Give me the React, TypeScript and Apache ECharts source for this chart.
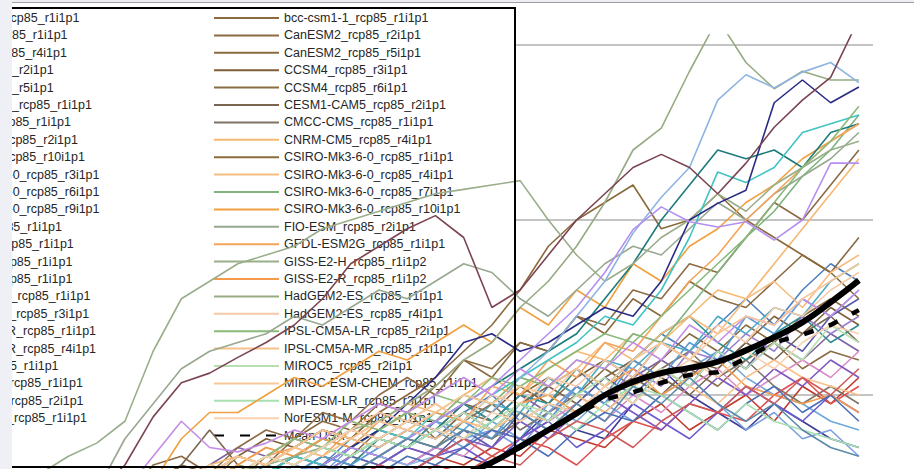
import { useEffect, useRef } from "react";
import * as echarts from "echarts";

const years = [2010, 2013, 2016, 2019, 2022, 2025, 2028, 2031, 2034, 2037, 2040, 2043, 2046, 2049, 2052, 2055, 2058, 2061, 2064, 2067, 2070, 2073, 2076, 2079, 2082, 2085, 2088, 2091, 2094, 2097, 2100];

const leftNames = [
  "ACCESS1-0_rcp85_r1i1p1", "BNU-ESM_rcp85_r1i1p1", "CanESM2_rcp85_r4i1p1", "CCSM4_rcp85_r2i1p1",
  "CCSM4_rcp85_r5i1p1", "CESM1-CAM5_rcp85_r1i1p1", "CMCC-CM_rcp85_r1i1p1", "CNRM-CM5_rcp85_r2i1p1",
  "CNRM-CM5_rcp85_r10i1p1", "CSIRO-Mk3-6-0_rcp85_r3i1p1", "CSIRO-Mk3-6-0_rcp85_r6i1p1", "CSIRO-Mk3-6-0_rcp85_r9i1p1",
  "FIO-ESM_rcp85_r1i1p1", "GFDL-CM3_rcp85_r1i1p1", "GISS-E2-H_rcp85_r1i1p1", "GISS-E2-R_rcp85_r1i1p1",
  "HadGEM2-AO_rcp85_r1i1p1", "HadGEM2-ES_rcp85_r3i1p1", "IPSL-CM5A-LR_rcp85_r1i1p1", "IPSL-CM5A-LR_rcp85_r4i1p1",
  "MIROC5_rcp85_r1i1p1", "MIROC-ESM_rcp85_r1i1p1", "MPI-ESM-LR_rcp85_r2i1p1", "MPI-ESM-MR_rcp85_r1i1p1",
  "MRI-CGCM3", "Poly. (Mean)",
];

const rightNames = [
  "bcc-csm1-1_rcp85_r1i1p1", "CanESM2_rcp85_r2i1p1", "CanESM2_rcp85_r5i1p1", "CCSM4_rcp85_r3i1p1",
  "CCSM4_rcp85_r6i1p1", "CESM1-CAM5_rcp85_r2i1p1", "CMCC-CMS_rcp85_r1i1p1", "CNRM-CM5_rcp85_r4i1p1",
  "CSIRO-Mk3-6-0_rcp85_r1i1p1", "CSIRO-Mk3-6-0_rcp85_r4i1p1", "CSIRO-Mk3-6-0_rcp85_r7i1p1", "CSIRO-Mk3-6-0_rcp85_r10i1p1",
  "FIO-ESM_rcp85_r2i1p1", "GFDL-ESM2G_rcp85_r1i1p1", "GISS-E2-H_rcp85_r1i1p2", "GISS-E2-R_rcp85_r1i1p2",
  "HadGEM2-ES_rcp85_r1i1p1", "HadGEM2-ES_rcp85_r4i1p1", "IPSL-CM5A-LR_rcp85_r2i1p1", "IPSL-CM5A-MR_rcp85_r1i1p1",
  "MIROC5_rcp85_r2i1p1", "MIROC-ESM-CHEM_rcp85_r1i1p1", "MPI-ESM-LR_rcp85_r3i1p1", "NorESM1-M_rcp85_r1i1p1",
  "Mean USA",
];

// left-column series values
const L1 = [0.5,0.6,0.5,0.7,0.8,0.7,0.9,1.0,0.9,1.1,1.3,1.2,1.5,1.4,1.6,1.5,1.8,2.0,1.7,2.1,2.3,2.0,2.4,2.7,2.5,2.8,3.1,2.8,3.2,3.5,3.3];
const L2 = [0.6,0.5,0.8,0.7,0.9,1.1,1.0,1.2,1.4,1.3,1.5,1.4,1.6,1.5,1.4,1.7,1.9,1.7,2.0,1.8,2.1,1.9,2.2,2.4,2.2,2.5,2.3,2.6,2.4,2.7,2.5];
const L3 = [0.3,0.5,0.4,0.6,0.7,0.5,0.8,0.9,0.7,1.0,0.9,1.1,1.0,1.2,1.1,1.3,1.2,1.4,1.3,1.6,1.5,1.4,1.7,1.9,1.6,1.8,2.0,1.7,2.1,1.9,2.2];
const L4 = [0.4,0.3,0.5,0.6,0.4,0.7,0.8,0.9,0.7,1.0,1.1,1.0,1.3,1.2,1.4,1.6,1.4,1.7,1.5,1.9,1.7,2.0,2.2,2.0,2.3,2.5,2.2,2.0,1.9,1.7,1.6];
const L5 = [0.2,0.4,0.3,0.5,0.4,0.6,0.7,0.5,0.8,0.9,1.0,0.9,1.1,1.3,1.2,1.4,1.3,1.2,1.5,1.8,1.6,1.5,1.9,2.3,2.0,1.8,1.6,1.9,1.7,1.5,1.4];
const L6 = [0.3,0.4,0.6,0.5,0.7,0.6,0.8,1.0,0.9,1.1,1.3,1.2,1.4,1.6,1.5,1.7,1.6,1.9,1.8,2.2,2.0,2.4,2.3,2.6,2.5,2.9,2.7,3.0,2.9,3.3,3.5];
const L7 = [0.2,0.3,0.5,0.4,0.6,0.5,0.7,0.8,0.6,0.9,1.0,1.2,1.1,1.3,1.2,1.4,1.3,1.6,1.5,1.7,1.9,1.7,2.0,1.8,2.1,2.3,2.0,2.2,2.4,2.2,2.5];
const L8 = [0.3,0.4,0.3,0.5,0.6,0.5,0.7,0.6,0.8,1.0,0.9,1.1,1.3,1.2,1.4,1.3,1.6,1.4,1.8,1.6,1.9,2.2,2.0,2.3,2.1,2.5,2.3,2.7,2.5,2.9,3.1];
const L9 = [0.4,0.5,0.4,0.6,0.5,0.7,0.9,0.8,1.0,1.2,1.1,1.3,1.2,1.5,1.4,1.7,1.9,1.7,2.0,1.9,2.3,2.1,2.4,2.7,2.9,2.6,2.4,2.7,2.9,2.6,2.8];
const L10 = [0.2,0.3,0.4,0.3,0.5,0.6,0.4,0.7,0.8,0.7,0.9,1.0,0.9,1.1,1.0,1.2,1.1,1.3,1.5,1.4,1.2,1.5,1.7,1.6,1.9,1.8,1.7,2.0,2.2,1.9,2.1];
const L11 = [0.3,0.5,0.4,0.6,0.7,0.6,0.8,0.9,1.1,1.0,1.2,1.1,1.3,1.5,1.4,1.6,1.8,1.6,1.9,1.7,2.1,1.9,2.3,2.1,2.5,2.4,2.7,2.5,2.9,2.7,2.9];
const L12 = [0.5,0.4,0.6,0.5,0.7,0.8,0.7,0.9,1.1,1.0,1.2,1.1,1.4,1.3,1.5,1.7,1.5,1.6,1.4,1.8,2.1,1.9,1.7,2.0,2.2,1.9,1.6,1.8,1.5,1.6,1.3];
const L13 = [0.2,0.3,0.2,0.4,0.5,0.4,0.6,0.7,0.6,0.8,0.9,0.8,1.0,1.2,1.1,1.3,1.4,1.2,1.5,1.7,1.4,1.6,1.9,1.7,1.5,1.8,2.1,1.9,1.7,2.0,1.8];
const L14 = [0.4,0.5,0.6,0.5,0.7,0.8,0.7,0.9,1.1,1.0,1.2,1.4,1.3,1.5,1.7,1.6,1.9,2.1,2.3,2.5,2.7,3.1,3.5,4.0,4.4,4.8,4.7,4.8,4.6,5.0,5.1];
const L15 = [0.3,0.4,0.5,0.4,0.6,0.7,0.9,0.8,1.0,0.9,1.1,1.3,1.2,1.4,1.6,1.5,1.7,1.5,1.9,1.7,2.1,1.9,2.4,2.2,2.6,2.4,2.9,2.7,3.1,2.9,3.2];
const L16 = [0.3,0.4,0.5,0.6,0.5,0.7,0.8,1.0,0.9,1.1,1.3,1.2,1.4,1.6,1.5,1.8,1.7,2.0,2.2,2.4,2.6,2.9,2.8,3.2,3.8,4.55,4.43,4.6,5.0,5.1,5.2];
const L17 = [0.3,0.4,0.3,0.5,0.6,0.7,0.6,0.8,0.9,1.0,1.0,1.2,1.4,1.6,1.9,2.2,2.6,2.7,2.5,2.6,2.8,3.0,2.9,3.3,4.0,4.19,4.34,5.34,5.6,5.34,5.52];
const L18 = [0.4,0.5,0.4,0.6,0.7,0.6,0.8,0.9,1.0,0.9,1.1,1.2,1.1,1.3,1.2,1.3,1.5,1.8,2.2,2.5,2.9,3.3,3.85,4.26,4.6,5.37,5.66,5.51,5.69,5.8,5.57];
const L19 = [0.2,0.3,0.4,0.5,0.4,0.6,0.5,0.7,0.9,0.8,1.0,1.1,1.0,1.2,1.4,1.3,1.5,1.4,1.7,1.5,1.8,2.0,1.8,1.6,1.9,2.2,2.0,2.3,2.1,2.4,2.2];
const L20 = [0.3,0.4,0.5,0.4,0.6,0.7,0.8,0.7,0.9,1.1,1.0,1.2,1.4,1.3,1.5,1.7,1.9,2.1,2.4,2.7,3.0,3.4,3.89,4.15,3.98,3.92,3.98,3.77,4.0,4.65,4.65];
const L21 = [0.3,0.5,0.6,0.7,0.9,1.3,1.7,1.4,1.35,1.45,1.6,1.5,1.7,1.9,1.8,2.0,2.2,2.0,2.3,2.1,2.4,2.3,2.6,2.4,2.8,2.6,2.9,2.8,3.1,2.9,3.2];
const L22 = [0.6,0.7,0.8,0.9,1.2,1.75,2.14,2.25,2.43,2.6,2.8,3.1,3.5,3.7,3.9,4.05,3.8,3.0,3.2,3.6,4.0,4.3,4.6,4.75,4.6,4.3,4.65,5.06,5.37,5.63,6.3];
const L23 = [0.3,0.2,0.4,0.5,0.4,0.6,0.7,0.6,0.8,0.9,0.8,1.0,1.2,1.1,1.3,1.2,1.4,1.6,1.5,1.3,1.6,1.8,1.7,2.0,1.8,1.6,1.9,2.1,1.8,2.0,1.7];
const L24 = [0.2,0.4,0.3,0.5,0.6,0.5,0.7,0.6,0.8,1.0,0.9,1.1,1.0,1.2,1.1,1.3,1.5,1.3,1.2,1.5,1.7,1.6,1.4,1.7,1.9,1.8,2.1,1.9,2.2,2.0,2.3];
const L25 = [0.3,0.4,0.5,0.4,0.6,0.5,0.7,0.8,0.7,0.9,1.0,1.2,1.1,1.3,1.5,1.4,1.6,1.5,1.8,1.6,1.9,1.7,2.1,1.9,2.2,1.9,1.7,1.9,1.6,1.4,1.3];
const polyMean = [0.2,0.25,0.3,0.35,0.4,0.45,0.5,0.55,0.6,0.65,0.7,0.75,0.8,0.85,0.9,0.98,1.09,1.23,1.41,1.6,1.79,2.0,2.15,2.25,2.31,2.38,2.51,2.66,2.83,3.06,3.31];

// right-column series values
const R1 = [0.4,0.5,0.7,0.6,0.8,0.9,0.8,1.1,1.0,1.3,1.2,1.4,1.3,1.6,1.8,1.5,1.8,1.7,2.0,2.2,2.0,2.3,2.1,2.4,2.7,2.5,2.8,2.6,2.9,3.1,2.9];
const R2 = [0.7,0.6,0.9,1.0,0.8,1.2,1.3,1.1,1.4,1.6,1.5,1.8,1.7,2.0,2.2,2.0,2.4,2.3,2.6,2.5,2.9,2.8,3.2,3.1,3.5,3.4,3.8,4.2,4.0,4.4,4.8];
const R3 = [0.5,0.7,0.6,0.8,1.0,0.9,1.1,1.0,1.3,1.2,1.5,1.7,1.6,1.9,1.8,2.1,2.4,2.2,2.6,2.5,2.9,2.7,3.1,2.9,3.3,3.1,3.0,3.3,3.6,3.4,3.8];
const R4 = [0.6,0.8,0.7,0.9,0.8,1.0,1.2,1.1,1.3,1.5,1.4,1.6,1.5,1.8,1.7,1.6,1.9,1.8,2.1,1.9,2.2,2.4,2.2,2.6,2.4,2.3,2.6,2.9,2.7,3.0,2.8];
const R5 = [0.5,0.4,0.6,0.8,0.7,0.9,0.8,1.0,1.2,1.1,1.3,1.2,1.4,1.3,1.5,1.4,1.6,1.5,1.7,1.9,1.8,2.0,2.2,2.0,2.3,2.1,2.4,2.6,2.3,2.5,2.4];
const R6 = [0.4,0.6,0.5,0.7,0.8,0.9,1.2,1.6,1.2,1.0,1.1,1.3,1.2,1.5,1.4,1.6,1.8,1.6,1.9,2.1,1.9,2.2,2.4,2.2,2.0,2.3,2.6,2.4,2.7,2.9,2.6];
const R7 = [0.6,0.7,0.5,0.8,0.9,0.7,1.0,0.9,1.2,1.1,1.3,1.5,1.4,1.6,1.5,1.4,1.7,1.9,1.6,1.8,2.0,1.8,2.1,2.3,2.5,2.2,2.4,2.1,1.9,2.1,1.9];
const R8 = [0.5,0.6,0.8,0.7,0.9,1.1,1.0,1.2,1.3,1.2,1.4,1.6,1.5,1.7,1.9,1.8,2.0,2.2,2.0,2.3,2.5,2.4,2.7,2.6,2.9,3.2,3.1,3.5,3.9,4.3,4.7];
const R9 = [0.5,0.6,0.7,0.6,0.8,1.0,0.9,1.1,1.3,1.2,1.4,1.6,1.5,1.8,2.0,2.2,2.5,2.8,3.2,3.7,4.0,4.2,4.4,3.9,4.0,4.3,4.0,3.8,3.6,3.4,3.1];
const R10 = [0.6,0.5,0.7,0.9,0.8,1.0,1.1,1.0,1.2,1.4,1.3,1.5,1.7,1.6,1.8,1.7,2.0,1.9,2.2,2.1,2.3,2.6,2.4,2.7,2.9,2.7,3.1,3.3,3.0,3.4,3.6];
const R11 = [0.4,0.5,0.6,0.5,0.7,0.9,0.8,1.0,1.2,1.1,1.3,1.5,1.4,1.6,1.8,1.7,2.0,1.9,2.2,2.1,2.4,2.3,2.7,2.6,3.0,3.4,3.8,4.1,4.5,4.8,5.2];
const R12 = [0.3,0.4,0.5,0.6,0.8,1.0,1.5,1.8,1.8,2.0,2.2,2.1,2.3,2.5,2.4,2.6,2.8,2.6,3.0,2.8,3.2,3.0,3.5,3.3,3.7,3.9,4.2,4.4,4.7,4.9,5.1];
const R13 = [0.4,0.5,0.7,0.9,1.5,1.9,2.3,2.5,2.6,2.7,2.9,2.8,3.0,3.2,3.1,3.3,3.5,3.4,3.1,2.9,3.2,3.5,3.7,3.6,3.9,4.2,4.0,4.3,4.5,4.7,5.0];
const R14 = [0.5,0.6,0.5,0.7,0.9,0.8,1.0,1.2,1.1,1.3,1.4,1.3,1.6,1.5,1.7,1.9,1.7,2.1,2.0,2.4,2.2,2.6,2.5,2.9,3.3,3.6,4.0,4.3,4.6,4.9,5.1];
const R15 = [0.8,1.1,1.3,1.45,1.7,2.5,3.1,3.3,3.5,3.6,3.7,3.9,4.0,4.1,4.2,4.3,4.35,4.4,4.45,4.0,3.6,3.3,3.5,3.8,4.0,4.3,4.1,4.4,4.6,4.8,4.9];
const R16 = [0.4,0.5,0.7,0.6,0.8,0.9,1.1,1.0,1.2,1.4,1.3,1.5,1.4,1.7,1.6,1.8,1.7,1.6,1.9,2.0,1.8,2.1,2.3,2.0,2.2,2.4,2.1,2.0,1.9,2.0,1.8];
const R17 = [0.6,0.7,0.7,0.8,0.9,0.9,1.0,1.0,1.1,1.2,1.3,1.4,1.6,1.7,1.9,2.1,2.4,2.6,3.0,3.3,3.7,4.2,4.8,5.05,5.7,6.3,5.8,5.5,5.7,5.6,5.6];
const R18 = [0.5,0.6,0.7,0.8,0.7,0.9,1.0,1.2,1.1,1.3,1.5,1.4,1.6,1.8,1.7,1.9,1.7,2.0,1.9,2.2,2.1,2.4,2.2,2.6,2.4,2.8,2.6,3.0,2.9,3.2,3.4];
const R19 = [0.5,0.4,0.6,0.8,0.7,0.9,1.0,1.2,1.1,1.3,1.5,1.4,1.7,1.6,1.8,2.0,1.9,2.2,2.1,2.3,2.5,2.7,2.6,2.9,3.2,3.5,3.8,4.2,4.6,4.9,5.3];
const R20 = [0.6,0.5,0.7,0.6,0.8,1.0,0.9,1.1,1.3,1.2,1.4,1.3,1.5,1.4,1.6,1.5,1.7,1.6,1.8,1.7,2.0,1.8,2.1,2.3,2.1,1.9,2.2,2.4,2.2,2.1,2.0];
const R21 = [0.4,0.5,0.6,0.5,0.7,0.8,1.0,0.9,1.1,1.0,1.2,1.4,1.3,1.5,1.4,1.6,1.8,1.6,1.9,1.7,2.0,2.2,1.9,2.3,2.1,2.5,2.3,2.6,2.4,2.8,2.6];
const R22 = [0.5,0.6,0.5,0.7,0.8,1.0,0.9,1.1,1.3,1.2,1.4,1.6,1.5,1.7,1.6,1.8,2.0,1.9,2.1,2.0,2.3,2.1,2.4,2.6,2.4,2.7,2.9,2.8,3.1,3.3,3.5];
const R23 = [0.4,0.6,0.5,0.7,0.6,0.8,1.0,0.9,1.1,1.3,1.2,1.4,1.3,1.5,1.4,1.6,1.5,1.7,1.9,1.8,1.6,1.9,2.1,2.0,1.8,1.6,1.9,1.7,1.6,1.5,1.4];
const R24 = [0.6,0.7,0.6,0.8,0.9,0.8,1.0,1.2,1.1,1.3,1.2,1.4,1.6,1.5,1.7,1.6,1.5,1.8,1.7,1.9,1.8,2.1,1.9,2.2,2.4,2.2,2.5,2.3,2.6,2.8,2.7];
const meanUSA = [0.3,0.32,0.35,0.38,0.4,0.43,0.45,0.5,0.52,0.55,0.6,0.63,0.68,0.72,0.8,0.9,1.05,1.22,1.4,1.6,1.78,1.95,2.03,2.14,2.23,2.26,2.42,2.6,2.69,2.8,2.97];

const leftValues = [L1, L2, L3, L4, L5, L6, L7, L8, L9, L10, L11, L12, L13, L14, L15, L16, L17, L18, L19, L20, L21, L22, L23, L24, L25];
const rightValues = [R1, R2, R3, R4, R5, R6, R7, R8, R9, R10, R11, R12, R13, R14, R15, R16, R17, R18, R19, R20, R21, R22, R23, R24];

const leftColors = [
  "#4f81bd", "#8064a2", "#c0392b", "#6fa8dc", "#3c3c96", "#4bacc6", "#d98cc8", "#5b5ba8",
  "#2f8f8f", "#e05050", "#9a7fd0", "#7aa0e0", "#6a5acd", "#1e7b7b", "#5b9bd5", "#40c4c4",
  "#2b2b85", "#8db4e2", "#7e57c2", "#b48ff0", "#c58be8", "#7b4450", "#4a6fb5", "#d05a5a", "#5d8aa8",
];
const rightColors = [
  "#8b6a3e", "#8d6b45", "#8a6a40", "#7f5f3a", "#8a6d44", "#7a6650", "#7d7467", "#f5b870",
  "#8b6a3c", "#f6bd80", "#7fb47f", "#f0a040", "#98a890", "#f4a35a", "#9aae8a", "#f39a4c",
  "#97ab82", "#f6c9a8", "#8aba7a", "#f8c08a", "#b6e0b0", "#f7c89a", "#a8e0b0", "#f8d2b0",
];

function toPoints(vals: number[]) {
  return years.map((y, i) => [y, vals[i]]);
}

export default function App() {
  const ref = useRef<HTMLDivElement>(null);

  useEffect(() => {
    if (!ref.current) return;
    const chart = echarts.init(ref.current, undefined, { renderer: "svg" });

    const series: any[] = [];
    for (let r = 0; r < 25; r++) {
      series.push({
        name: leftNames[r],
        type: "line",
        data: toPoints(leftValues[r]),
        symbol: "none",
        z: 3,
        silent: true,
        lineStyle: { color: leftColors[r], width: 1.6 },
        itemStyle: { color: leftColors[r] },
      });
      if (r < 24) {
        series.push({
          name: rightNames[r],
          type: "line",
          data: toPoints(rightValues[r]),
          symbol: "none",
          z: 3,
          silent: true,
          lineStyle: { color: rightColors[r], width: 1.6 },
          itemStyle: { color: rightColors[r] },
        });
      }
    }
    series.push({
      name: "Mean USA",
      type: "line",
      data: toPoints(meanUSA),
      symbol: "none",
      z: 4,
      silent: true,
      lineStyle: { color: "#000", width: 4.5, type: [10, 16] },
      itemStyle: { color: "#000" },
    });
    series.push({
      name: leftNames[25],
      type: "line",
      data: toPoints(polyMean),
      symbol: "none",
      smooth: true,
      z: 4,
      silent: true,
      lineStyle: { color: "#000", width: 6 },
      itemStyle: { color: "#000" },
    });

    const legendCommon = {
      orient: "vertical",
      top: 11,
      padding: 0,
      itemWidth: 65,
      itemHeight: 14,
      itemGap: 3.4,
      selectedMode: false,
      z: 2,
      itemStyle: { opacity: 0 },
      textStyle: {
        fontFamily: "Liberation Sans",
        fontSize: 12.5,
        color: "#262626",
        lineHeight: 14,
      },
    };

    chart.setOption({
      animation: false,
      backgroundColor: "#ffffff",
      grid: { left: 12, right: 41, top: 35, bottom: 30 },
      xAxis: { type: "value", min: 2010, max: 2101.5, show: false },
      yAxis: {
        type: "value",
        min: 0,
        max: 6.1143,
        interval: 2,
        axisLine: { show: false },
        axisTick: { show: false },
        axisLabel: { show: false },
        splitLine: {
          show: true,
          showMaxLine: false,
          lineStyle: { color: "#c4c4c4", width: 2 },
        },
      },
      legend: [
        { ...legendCommon, left: -141, data: leftNames },
        { ...legendCommon, left: 213, data: rightNames },
      ],
      graphic: [
        { type: "rect", z: 1, shape: { x: -10, y: 8, width: 525, height: 459 }, style: { fill: "#ffffff" }, silent: true },
        { type: "rect", z: 10, shape: { x: -10, y: 8, width: 525, height: 459 }, style: { fill: "none", stroke: "#000", lineWidth: 2 }, silent: true },
        { type: "rect", z: 20, shape: { x: 0, y: 0, width: 914, height: 2 }, style: { fill: "#eceef3" }, silent: true },
        { type: "line", z: 20, shape: { x1: 12, y1: 2.5, x2: 914, y2: 2.5 }, style: { stroke: "#a0a0a0", lineWidth: 1 }, silent: true },
        { type: "rect", z: 21, shape: { x: 0, y: 0, width: 12, height: 600 }, style: { fill: "#eef0f5" }, silent: true },
      ],
      series,
    });

    return () => chart.dispose();
  }, []);

  return (
    <div
      ref={ref}
      style={{ position: "fixed", left: 0, top: 0, width: 914, height: 600 }}
    />
  );
}
